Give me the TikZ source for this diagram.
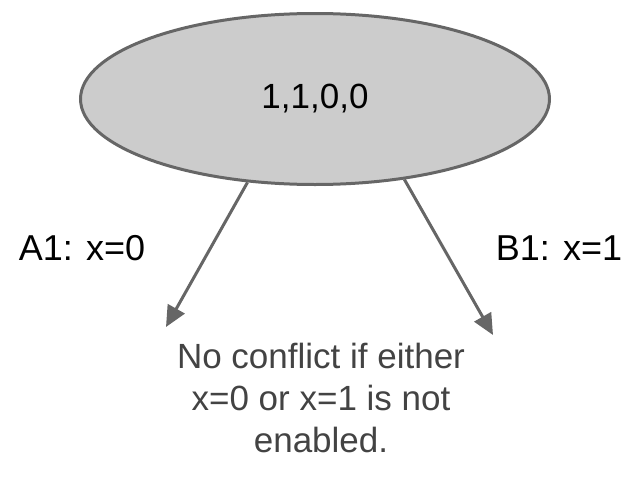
\documentclass[tikz,border=0pt]{standalone}
\usepackage{fontspec}
\setmainfont{Liberation Sans}
\usepackage{xcolor}
\usetikzlibrary{arrows.meta,shapes.geometric}
\definecolor{nodefill}{HTML}{CCCCCC}
\definecolor{linegray}{HTML}{666666}
\definecolor{textgray}{HTML}{434343}

\begin{document}
\begin{tikzpicture}[x=1pt, y=-1pt, line width=3pt, >={Triangle[length=21pt,width=19pt]}]
  \useasboundingbox (0,0) rectangle (630,482);
  \node[ellipse, draw=linegray, fill=nodefill, minimum width=469pt, minimum height=171pt,
        font=\fontsize{35}{42}\selectfont] (root) at (315,99) {1,1,0,0};

  \coordinate (lefttip) at (166,327);
  \coordinate (righttip) at (493,335);
  \draw[linegray, ->] (root.231) -- (lefttip);
  \draw[linegray, ->] (root.318) -- (righttip);

  \node[font=\fontsize{36}{42}\selectfont] (leftlabel) at (82,248) {A1: x=0};
  \node[font=\fontsize{36}{42}\selectfont] (rightlabel) at (559,248) {B1: x=1};

  \node[align=center, text=textgray, font=\fontsize{35}{42}\selectfont] (note) at (321,398)
    {No conflict if either\\x=0 or x=1 is not\\enabled.};
\end{tikzpicture}
\end{document}
